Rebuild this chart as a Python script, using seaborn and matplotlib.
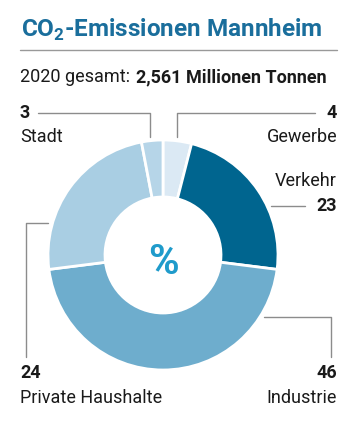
import matplotlib
matplotlib.use("Agg")
import matplotlib.pyplot as plt
import seaborn as sns

sns.set_theme(style="white")
plt.rcParams["font.family"] = ["Roboto", "DejaVu Sans"]

# Daten
kategorien = ["Gewerbe", "Verkehr", "Industrie", "Private Haushalte", "Stadt"]
anteile = [4, 23, 46, 24, 3]
farben = ["#dbe9f4", "#00658f", "#6eadcd", "#a9cee3", "#b6d5e8"]

W, H = 357, 425
fig = plt.figure(figsize=(W / 100, H / 100), dpi=100)
ax = fig.add_axes([0, 0, 1, 1])

ax.pie(anteile, colors=farben, startangle=90, counterclock=False,
       center=(163, H - 255), radius=115,
       wedgeprops=dict(width=57, edgecolor="white", linewidth=2))
ax.set_xlim(0, W)
ax.set_ylim(0, H)
ax.set_aspect("auto")
ax.axis("off")

def y(p):
    return H - p

dunkel = "#1a1a1a"
titelblau = "#1a6e9c"

ax.text(172, y(30), "CO$_\\mathregular{2}$-Emissionen Mannheim", ha="center", va="center",
        fontsize=17.5, fontweight="bold", color=titelblau)
ax.plot([20, 337], [y(50), y(50)], color="#999999", lw=1)
t1 = ax.text(20, y(77), "2020 gesamt:", ha="left", va="center", fontsize=13, color=dunkel)
ax.annotate("2,561 Millionen Tonnen", xy=(1, 0.5), xycoords=t1, xytext=(4, 0),
            textcoords="offset points", ha="left", va="center",
            fontsize=13, fontweight="bold", color=dunkel)

ax.text(163, y(262), "%", ha="center", va="center", fontsize=30, fontweight="bold", color="#1f9bcb")

linie = dict(color="#8c8c8c", lw=1)
gross = 13
# Stadt
ax.plot([38, 150, 150], [y(113), y(113), y(137)], **linie)
ax.text(20, y(113), "3", ha="left", va="center", fontsize=gross, fontweight="bold", color=dunkel)
ax.text(20, y(137), "Stadt", ha="left", va="center", fontsize=gross, color=dunkel)
# Gewerbe
ax.plot([177, 177, 315], [y(137), y(113), y(113)], **linie)
ax.text(337, y(113), "4", ha="right", va="center", fontsize=gross, fontweight="bold", color=dunkel)
ax.text(337, y(137), "Gewerbe", ha="right", va="center", fontsize=gross, color=dunkel)
# Verkehr
ax.plot([271, 305], [y(206), y(206)], **linie)
ax.text(337, y(181), "Verkehr", ha="right", va="center", fontsize=gross, color=dunkel)
ax.text(337, y(206), "23", ha="right", va="center", fontsize=gross, fontweight="bold", color=dunkel)
# Industrie
ax.plot([264, 331, 331], [y(317), y(317), y(357)], **linie)
ax.text(337, y(373), "46", ha="right", va="center", fontsize=gross, fontweight="bold", color=dunkel)
ax.text(337, y(398), "Industrie", ha="right", va="center", fontsize=gross, color=dunkel)
# Private Haushalte
ax.plot([48, 26, 26], [y(223), y(223), y(357)], **linie)
ax.text(20, y(373), "24", ha="left", va="center", fontsize=gross, fontweight="bold", color=dunkel)
ax.text(20, y(398), "Private Haushalte", ha="left", va="center", fontsize=gross, color=dunkel)

fig.savefig("out.png", dpi=100, facecolor="white")
